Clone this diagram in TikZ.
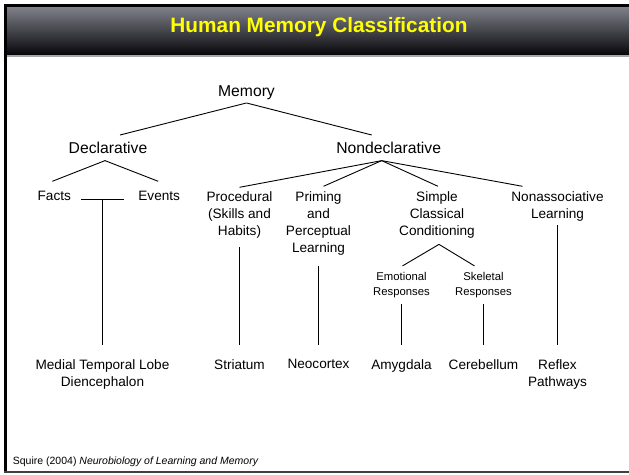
\documentclass[tikz,border=0pt]{standalone}
\usepackage{fontspec}
\setmainfont{Liberation Sans}
\usetikzlibrary{positioning,calc}

\definecolor{bartop}{RGB}{128,128,138}
\definecolor{barmid}{RGB}{46,46,54}
\definecolor{barbot}{RGB}{6,6,10}
\definecolor{titleyellow}{RGB}{255,255,0}

\begin{document}
\begin{tikzpicture}[
    x=1pt, y=-1pt,
    lvlone/.style={font=\fontsize{15.7}{19}\selectfont, anchor=north, inner sep=0pt, align=center},
    lvltwo/.style={font=\fontsize{13.6}{17}\selectfont, anchor=north, inner sep=0pt, align=center},
    lvlsub/.style={font=\fontsize{11.3}{15}\selectfont, anchor=north, inner sep=0pt, align=center},
    link/.style={line width=0.9pt},
]
\useasboundingbox (0,0) rectangle (629,474);
\fill[white] (0,0) rectangle (629,474);

% Title bar and frame
\shade[top color=bartop, middle color=barmid, bottom color=barbot] (6,7) rectangle (629,55);
\draw[gray!70, line width=1.5pt] (6,56) -- (629,56);
\draw[black, line width=3pt] (4,5.5) -- (629,5.5);
\draw[black, line width=2.5pt] (5.5,4) -- (5.5,473);
\draw[black!75, line width=2pt] (4,472) -- (629,472);
\node[font=\fontsize{20.8}{25}\selectfont\bfseries, text=titleyellow, inner sep=0pt, anchor=base]
    (title) at (319,32.7) {Human Memory Classification};

% Top levels
\node[lvlone] (mem) at (246.5,85.5) {Memory};
\node[lvlone] (decl) at (108,141.7) {Declarative};
\node[lvlone] (nondecl) at (388.7,141.7) {Nondeclarative};

% Memory systems
\node[lvltwo] (facts) at (54.3,191.3) {Facts};
\node[lvltwo] (events) at (159.2,191.3) {Events};
\node[lvltwo] (proc) at (239.5,191.3) {Procedural\\(Skills and\\Habits)};
\node[lvltwo] (prim) at (318.5,191.3) {Priming\\and\\Perceptual\\Learning};
\node[lvltwo] (simple) at (437,191.3) {Simple\\Classical\\Conditioning};
\node[lvltwo] (nonassoc) at (557.5,191.3) {Nonassociative\\Learning};
\node[lvlsub] (emo) at (401.5,271.9) {Emotional\\Responses};
\node[lvlsub] (skel) at (483.5,271.9) {Skeletal\\Responses};

% Brain structures
\node[lvltwo] (mtl) at (102.5,359.3) {Medial Temporal Lobe\\Diencephalon};
\node[lvltwo] (stri) at (239.5,359.3) {Striatum};
\node[lvltwo] (neo) at (318.5,359.3) {Neocortex};
\node[lvltwo] (amyg) at (401.5,359.3) {Amygdala};
\node[lvltwo] (cereb) at (483.5,359.3) {Cerebellum};
\node[lvltwo] (reflex) at (557.5,359.3) {Reflex\\Pathways};

% Branch points
\coordinate (memtip) at ($(mem.south)+(0,3)$);
\coordinate (decltip) at ($(decl.south)+(-3,7)$);
\coordinate (ndtip) at ($(nondecl.south)+(-7,7)$);
\coordinate (simtip) at ($(simple.south)+(2,6)$);
\coordinate (factsend) at ($(facts.east)+(10,3)$);
\coordinate (eventsend) at ($(events.west)+(-14,3)$);
\coordinate (fe) at ($(factsend)!0.5!(eventsend)$);

% Connectors
\draw[link] (memtip) -- ($(decl.north)+(12,-6.7)$);
\draw[link] (memtip) -- ($(nondecl.north)+(-17,-6.7)$);
\draw[link] (decltip) -- ($(facts.north)+(-2,-10)$);
\draw[link] (decltip) -- ($(events.north)+(-1,-10)$);
\draw[link] (factsend) -- (eventsend);
\draw[link] (fe) -- (fe |- {$(mtl.north)+(0,-14)$});
\draw[link] (ndtip) -- ($(proc.north)+(0,-4)$);
\draw[link] (ndtip) -- ($(prim.north)+(5,-5)$);
\draw[link] (ndtip) -- ($(simple.north)+(1,-5)$);
\draw[link] (ndtip) -- ($(nonassoc.north)+(-35,-5)$);
\draw[link] (simtip) -- ($(emo.north)+(1,-6)$);
\draw[link] (simtip) -- ($(skel.north)+(-9,-6)$);
\draw[link] ($(proc.south)+(0,9)$) -- ($(stri.north)+(0,-14)$);
\draw[link] ($(prim.south)+(0,11)$) -- ($(neo.north)+(0,-14)$);
\draw[link] ($(emo.south)+(0,6)$) -- ($(amyg.north)+(0,-14)$);
\draw[link] ($(skel.south)+(0,6)$) -- ($(cereb.north)+(0,-14)$);
\draw[link] ($(nonassoc.south)+(0,4)$) -- ($(reflex.north)+(0,-14)$);

% Source
\node[font=\fontsize{10.5}{13}\selectfont, anchor=base west, inner sep=0pt]
    (src) at (12.7,464) {Squire (2004) \textit{Neurobiology of Learning and Memory}};
\end{tikzpicture}
\end{document}
